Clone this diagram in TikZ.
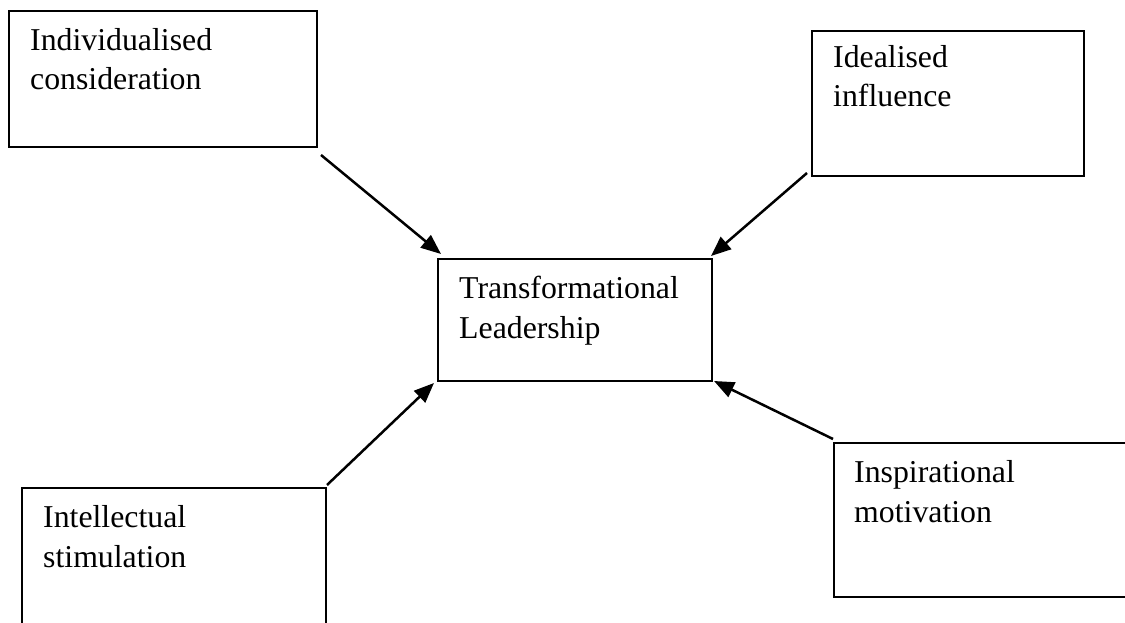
\documentclass[tikz,border=0pt]{standalone}
\usepackage{fontspec}
\setmainfont{Liberation Serif}
\usetikzlibrary{arrows.meta,fit,calc}
\begin{document}
\begin{tikzpicture}[x=1pt,y=-1pt,
  boxnode/.style={draw,line width=2pt,inner sep=0pt,rectangle},
  lbl/.style={font=\fontsize{31.8}{39.5}\selectfont,align=left,inner sep=0pt,anchor=base west},
  conn/.style={line width=2.5pt,-{Triangle[length=20pt,width=16pt]}}]
\useasboundingbox (0,0) rectangle (1125,623);
\clip (0,0) rectangle (1125,623);
\fill[white] (0,0) rectangle (1125,623);
% boxes
\node[boxnode,fit={(9,11)(317,147)}] (ic) {};
\node[boxnode,fit={(812,31)(1084,176)}] (ii) {};
\node[boxnode,fit={(438,259)(712,381)}] (tl) {};
\node[boxnode,fit={(22,488)(326,650)}] (is) {};
\node[boxnode,fit={(834,443)(1140,597)}] (im) {};
% labels (anchor = baseline of the last line)
\node[lbl] (ict) at (30,90) {Individualised\\consideration};
\node[lbl] (iit) at (833,107) {Idealised\\influence};
\node[lbl] (tlt) at (459,338) {Transformational\\Leadership};
\node[lbl] (ist) at (43,567) {Intellectual\\stimulation};
\node[lbl] (imt) at (854,522) {Inspirational\\motivation};
% connectors
\draw[conn] ($(ic.south east)+(3,7)$) -- ($(tl.north west)+(4,-4)$);
\draw[conn] ($(ii.south west)+(-4,-4)$) -- ($(tl.north east)+(-2,-2)$);
\draw[conn] ($(is.north east)+(0,-2)$) -- ($(tl.south west)+(-3,1)$);
\draw[conn] ($(im.north west)+(0,-3)$) -- ($(tl.south east)+(1,-1)$);
\end{tikzpicture}
\end{document}
